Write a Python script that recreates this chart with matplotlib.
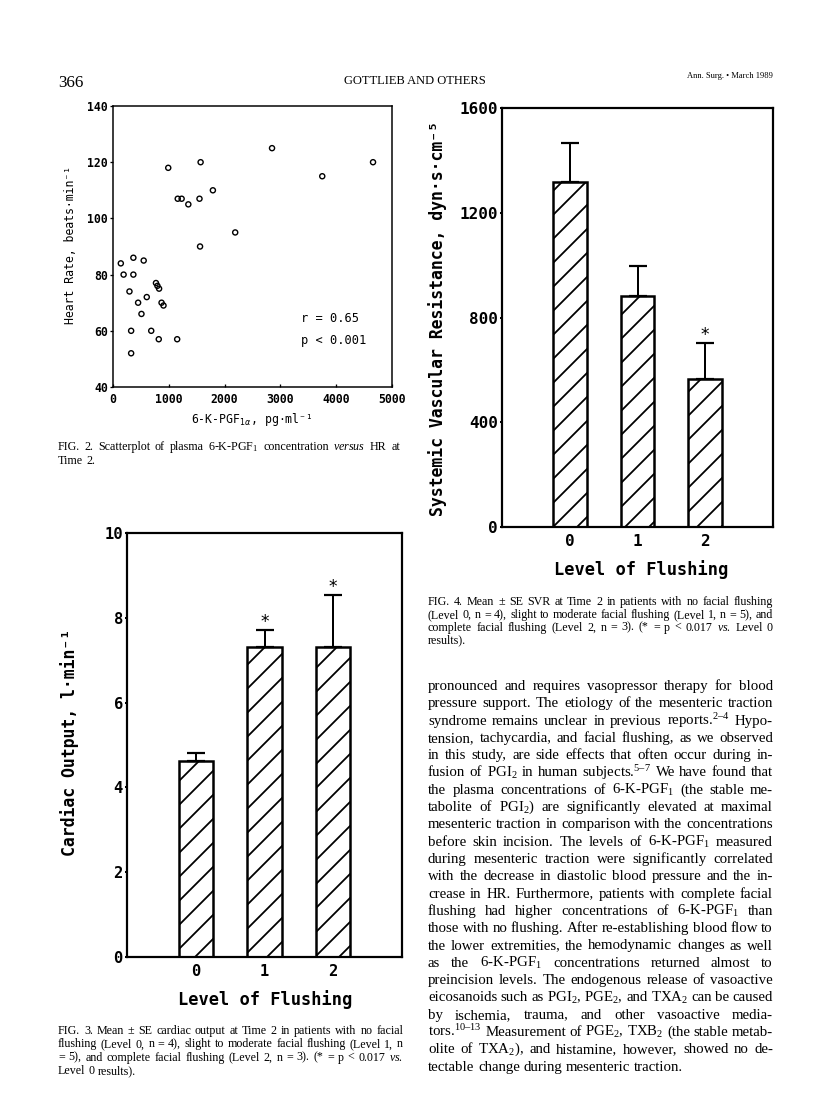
"""
Journal page (Ann. Surg. 1989, p. 366): HR scatter + two flushing bar charts.
"""

import matplotlib
matplotlib.use("Agg")
import matplotlib.pyplot as plt

W, H, DPI = 816, 1117, 72
MONO = ["DejaVu Sans Mono", "DejaVu Sans"]
SERIF = ["Liberation Serif", "DejaVu Serif"]
plt.rcParams.update({"mathtext.fontset": "custom",
                     "mathtext.rm": "Liberation Serif",
                     "mathtext.it": "Liberation Serif:italic",
                     "mathtext.bf": "Liberation Serif:bold",
                     "hatch.linewidth": 1.8, "hatch.color": "black"})

# Fig. 2 -- plasma 6-K-PGF1a vs heart rate at Time 2
pgf_conc = [2850, 4660, 3750, 1570, 990, 1160, 1230, 1350, 1550, 1790, 2190,
            1560, 140, 365, 550, 190, 365, 770, 796, 826, 295, 605, 450, 870,
            905, 510, 325, 685, 820, 1150, 325]
heart_rate = [125, 120, 115, 120, 118, 107, 107, 105, 107, 110, 95,
              90, 84, 86, 85, 80, 80, 77, 76, 75, 74, 72, 70, 70,
              69, 66, 60, 60, 57, 57, 52]
hr_xticks = [0, 1000, 2000, 3000, 4000, 5000]
hr_yticks = [40, 60, 80, 100, 120, 140]

# Fig. 3 / Fig. 4 -- mean +- SE by level of flushing
levels = [0, 1, 2]
co_mean = [4.62, 7.32, 7.32]
co_se = [0.20, 0.39, 1.21]
co_sig = [False, True, True]
co_yticks = [0, 2, 4, 6, 8, 10]
svr_mean = [1316, 882, 565]
svr_se = [152, 114, 136]
svr_sig = [False, False, True]
svr_yticks = [0, 400, 800, 1200, 1600]

fig = plt.figure(figsize=(W / DPI, H / DPI), dpi=DPI)
fig.patch.set_facecolor("white")


def fx(x):
    return x / W


def fy(y):
    return 1 - y / H


def axes_px(left, top, right, bottom):
    return fig.add_axes([fx(left), fy(bottom), (right - left) / W,
                         (bottom - top) / H])


def put_line(text, x0, x1, y, size, justify=True):
    words = text.split(" ")
    arts = [fig.text(0, fy(y), w, fontsize=size, family=SERIF,
                     va="baseline") for w in words]
    r = fig.canvas.get_renderer()
    widths = [a.get_window_extent(r).width for a in arts]
    gap = size * 0.25
    if justify and len(words) > 1:
        gap = max((x1 - x0 - sum(widths)) / (len(words) - 1), size * 0.12)
    x = x0
    for a, w in zip(arts, widths):
        a.set_x(fx(x))
        x += w + gap


def put_block(lines, x0, x1, y0, step, size):
    for i, line in enumerate(lines):
        put_line(line, x0, x1, y0 + i * step, size,
                 justify=i < len(lines) - 1)


# ---- scatter --------------------------------------------------------------
ax = axes_px(113, 106, 392, 387)
ax.scatter(pgf_conc, heart_rate, s=26, facecolors="none",
           edgecolors="black", linewidths=1.4)
ax.set_xlim(0, 5000)
ax.set_ylim(40, 140)
ax.set_xticks(hr_xticks)
ax.set_yticks(hr_yticks)
ax.tick_params(axis="x", direction="in", length=3, width=1.3, pad=6)
ax.tick_params(axis="y", direction="out", length=3, width=1.3, pad=2)
plt.setp(ax.get_xticklabels() + ax.get_yticklabels(), family=MONO,
         weight="bold", fontsize=11.5)
for s in ax.spines.values():
    s.set_linewidth(1.5)
ax.text(0.675, 0.245, "r = 0.65", transform=ax.transAxes, family=MONO,
        fontsize=12, va="center")
ax.text(0.675, 0.167, "p < 0.001", transform=ax.transAxes, family=MONO,
        fontsize=12, va="center")
fig.text(fx(70), fy(245), "Heart Rate, beats·min⁻¹", rotation=90,
         ha="center", va="center", family=MONO, fontsize=11.5)
fig.text(fx(252), fy(419), r"6-K-PGF$_{1\alpha}$, pg·ml⁻¹", ha="center",
         va="center", family=MONO, fontsize=11.5, math_fontfamily="dejavusans")


# ---- bar charts -----------------------------------------------------------
def flushing_bars(ax, means, se, sig, yticks, tick_size):
    ax.bar(levels, means, width=0.5, color="white", edgecolor="black",
           hatch="/", linewidth=2.5, zorder=2)
    ax.errorbar(levels, means, yerr=[[0] * len(se), se], fmt="none",
                ecolor="black", elinewidth=2, capsize=9, capthick=2.2,
                zorder=3)
    for x, m, s, star in zip(levels, means, se, sig):
        if star:
            ax.annotate("*", (x, m + s), xytext=(0, 3),
                        textcoords="offset points", ha="center",
                        va="baseline", fontsize=17)
    ax.set_xlim(-1, 3)
    ax.set_ylim(yticks[0], yticks[-1])
    ax.set_xticks(levels)
    ax.set_yticks(yticks)
    ax.tick_params(axis="x", length=0, pad=7)
    ax.tick_params(axis="y", direction="out", length=2, width=2, pad=2)
    plt.setp(ax.get_xticklabels() + ax.get_yticklabels(), family=MONO,
             weight="bold", fontsize=tick_size)
    for sp in ax.spines.values():
        sp.set_linewidth(2.2)


ax_svr = axes_px(502, 108, 773, 527)
flushing_bars(ax_svr, svr_mean, svr_se, svr_sig, svr_yticks, 16)
fig.text(fx(438), fy(318), "Systemic Vascular Resistance, dyn·s·cm⁻⁵",
         rotation=90, ha="center", va="center", family=MONO, weight="bold",
         fontsize=16.5)
fig.text(fx(641), fy(570), "Level of Flushing", ha="center", va="center",
         family=MONO, weight="bold", fontsize=17)

ax_co = axes_px(127, 533, 402, 957)
flushing_bars(ax_co, co_mean, co_se, co_sig, co_yticks, 15.5)
fig.text(fx(70), fy(742), "Cardiac Output, l·min⁻¹", rotation=90,
         ha="center", va="center", family=MONO, weight="bold", fontsize=16.5)
fig.text(fx(265), fy(1000), "Level of Flushing", ha="center", va="center",
         family=MONO, weight="bold", fontsize=17)

# ---- page furniture -------------------------------------------------------
fig.text(fx(58), fy(87), "366", family=SERIF, fontsize=17, va="baseline")
fig.text(fx(415), fy(84), "GOTTLIEB AND OTHERS", family=SERIF, fontsize=12.5,
         ha="center", va="baseline")
fig.text(fx(773), fy(78), "Ann. Surg. • March 1989", family=SERIF,
         fontsize=8.5, ha="right", va="baseline")

put_block(["FIG. 2. Scatterplot of plasma 6-K-PGF$_1$ concentration "
           r"$\mathit{versus}$ HR at",
           "Time 2."], 58, 400, 450, 14, 12)

put_block(["FIG. 3. Mean ± SE cardiac output at Time 2 in patients with no "
           "facial",
           "flushing (Level 0, n = 4), slight to moderate facial flushing "
           "(Level 1, n",
           "= 5), and complete facial flushing (Level 2, n = 3). "
           r"(* = p < 0.017 $\mathit{vs.}$",
           "Level 0 results)."], 58, 403, 1034, 13.3, 12)

put_block(["FIG. 4. Mean ± SE SVR at Time 2 in patients with no facial "
           "flushing",
           "(Level 0, n = 4), slight to moderate facial flushing (Level 1, "
           "n = 5), and",
           "complete facial flushing (Level 2, n = 3). "
           r"(* = p < 0.017 $\mathit{vs.}$ Level 0",
           "results)."], 428, 773, 605, 12.8, 12)

body = [
    "pronounced and requires vasopressor therapy for blood",
    "pressure support. The etiology of the mesenteric traction",
    "syndrome remains unclear in previous reports.$^{2–4}$ Hypo-",
    "tension, tachycardia, and facial flushing, as we observed",
    "in this study, are side effects that often occur during in-",
    "fusion of PGI$_2$ in human subjects.$^{5–7}$ We have found that",
    "the plasma concentrations of 6-K-PGF$_1$ (the stable me-",
    "tabolite of PGI$_2$) are significantly elevated at maximal",
    "mesenteric traction in comparison with the concentrations",
    "before skin incision. The levels of 6-K-PGF$_1$ measured",
    "during mesenteric traction were significantly correlated",
    "with the decrease in diastolic blood pressure and the in-",
    "crease in HR. Furthermore, patients with complete facial",
    "flushing had higher concentrations of 6-K-PGF$_1$ than",
    "those with no flushing. After re-establishing blood flow to",
    "the lower extremities, the hemodynamic changes as well",
    "as the 6-K-PGF$_1$ concentrations returned almost to",
    "preincision levels. The endogenous release of vasoactive",
    "eicosanoids such as PGI$_2$, PGE$_2$, and TXA$_2$ can be caused",
    "by ischemia, trauma, and other vasoactive media-",
    "tors.$^{10–13}$ Measurement of PGE$_2$, TXB$_2$ (the stable metab-",
    "olite of TXA$_2$), and histamine, however, showed no de-",
    "tectable change during mesenteric traction.",
]
put_block(body, 428, 773, 690, 17.3, 14.9)

fig.savefig("out.png", dpi=DPI, facecolor="white")
